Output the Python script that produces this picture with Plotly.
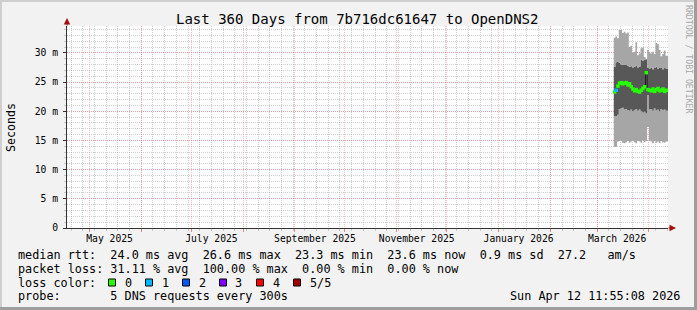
import plotly.graph_objects as go
import pandas as pd

FONT = "DejaVu Sans Mono"

# ---------------- data ----------------
range_start = "2025-04-17 11:55:08"
range_end = "2026-04-12 11:55:08"
first_day = "2026-03-11"

# smoke boundaries in ms (one value per day)
rtt_min = [13.9, 13.9, 14.8, 14.9, 15.0, 14.6, 14.5, 14.7, 14.9, 14.6, 14.8, 15.0, 14.7, 14.5, 14.9, 14.8,
           14.6, 15.0, 14.7, 14.9, 17.3, 15.0, 14.8, 14.5, 14.9, 14.6, 14.8, 14.5, 14.9, 14.7, 14.6, 14.8]
rtt_low = [19.2, 19.2, 19.4, 20.4, 20.5, 20.6, 20.3, 20.4, 20.2, 20.1, 20.3, 20.0, 20.2, 20.4, 20.1, 20.3,
           20.0, 19.8, 19.9, 19.6, 22.8, 20.3, 20.4, 20.1, 20.5, 20.2, 20.3, 20.0, 20.4, 20.2, 20.3, 20.1]
rtt_median = [23.3, 23.6, 24.3, 24.8, 24.9, 24.7, 24.8, 24.9, 24.5, 24.7, 24.2, 23.8, 23.5, 23.7, 23.4, 23.3,
              23.6, 23.9, 24.2, 26.6, 23.7, 23.6, 23.5, 23.8, 23.4, 23.7, 23.9, 23.5, 23.6, 23.8, 23.4, 23.6]
rtt_high = [27.6, 28.4, 28.5, 28.3, 28.0, 27.9, 28.0, 27.9, 27.8, 27.6, 27.7, 27.5, 27.6, 27.8, 27.5, 27.6,
            28.8, 28.6, 28.8, 28.9, 27.4, 27.3, 27.5, 27.2, 27.4, 27.6, 27.3, 27.4, 27.5, 27.2, 27.4, 27.3]
rtt_max = [32.6, 32.8, 32.5, 33.9, 33.9, 33.4, 33.6, 33.3, 33.5, 31.0, 31.2, 30.0, 30.2, 31.8, 29.6, 29.9,
           30.8, 30.9, 29.3, 29.0, 30.5, 30.1, 29.9, 30.2, 29.8, 31.7, 31.5, 30.5, 29.4, 29.8, 30.4, 29.5]
loss_class = [0, 1, 0, 0, 0, 0, 0, 0, 0, 0, 0, 0, 0, 0, 0, 0,
              0, 0, 0, 0, 0, 0, 0, 0, 0, 0, 0, 0, 0, 0, 0, 0]

loss_labels = ["0", "1", "2", "3", "4", "5/5"]
loss_colors = ["#26ff00", "#00b8ff", "#0059ff", "#7e00ff", "#ff0000", "#a10000"]

y_tick_vals = [0, 5, 10, 15, 20, 25, 30]
y_tick_text = ["0", "5 m", "10 m", "15 m", "20 m", "25 m", "30 m"]

title_text = "Last 360 Days from 7b716dc61647 to OpenDNS2"
y_title = "Seconds"
legend_rows = [
    "median rtt:  24.0 ms avg  26.6 ms max  23.3 ms min  23.6 ms now  0.9 ms sd  27.2   am/s",
    "packet loss: 31.11 % avg  100.00 % max  0.00 % min  0.00 % now",
    "loss color:",
    "probe:       5 DNS requests every 300s",
]
stamp_text = "Sun Apr 12 11:55:08 2026"
credit_text = "RRDTOOL / TOBI OETIKER"

# ---------------- geometry helpers (layout only) ----------------
W_IMG, H_IMG = 697, 310
PL, PR, PT, PB = 67, 668, 26, 228
PW, PH = PR - PL, PB - PT


def px(x):
    return (x - PL) / PW


def py(y):
    return (PB - y) / PH


def nb(s):
    return s.replace(" ", "\u00a0")


# ---------------- traces ----------------
days = pd.date_range(first_day, periods=len(rtt_median), freq="D")
edges = list(days) + [pd.Timestamp(range_end)]


def ext(v):
    return list(v) + [v[-1]]


LIGHT = "#a6a6a6"
DARK = "#585858"

fig = go.Figure()
common = dict(x=edges, mode="lines", line=dict(width=0, shape="hv", color="rgba(0,0,0,0)"),
              hoverinfo="skip", showlegend=False)
fig.add_trace(go.Scatter(y=ext(rtt_min), **common))
fig.add_trace(go.Scatter(y=ext(rtt_low), fill="tonexty", fillcolor=LIGHT, **common))
fig.add_trace(go.Scatter(y=ext(rtt_high), fill="tonexty", fillcolor=DARK, **common))
fig.add_trace(go.Scatter(y=ext(rtt_max), fill="tonexty", fillcolor=LIGHT, **common))

# median line
fig.add_trace(go.Scatter(x=edges, y=ext(rtt_median), mode="lines",
                         line=dict(width=1, shape="hv", color="#202020"),
                         hoverinfo="skip", showlegend=False))
mid = [d + pd.Timedelta(hours=12) for d in days]
fig.add_trace(go.Scatter(x=mid, y=rtt_median, mode="markers",
                         marker=dict(symbol="square", size=3.5,
                                     color=[loss_colors[c] for c in loss_class], line=dict(width=0)),
                         hoverinfo="skip", showlegend=False))
# helper trace for label axis
fig.add_trace(go.Scatter(x=mid, y=rtt_median, xaxis="x2", mode="lines",
                         line=dict(width=0, color="rgba(0,0,0,0)"), hoverinfo="skip", showlegend=False))

month_starts = pd.date_range("2025-05-01", "2026-04-01", freq="MS")
label_months = pd.date_range("2025-05-01", periods=6, freq="2MS")
label_pos = [m + pd.Timedelta(days=12) for m in label_months]
label_text = [m.strftime("%B %Y") for m in label_months]

GRID = "rgba(160,160,160,0.5)"
MGRID = "rgba(240,110,110,0.45)"
AXIS = "#333333"

fig.update_layout(
    width=W_IMG, height=H_IMG,
    margin=dict(l=PL, r=W_IMG - PR, t=PT, b=H_IMG - PB),
    paper_bgcolor="#f2f2f2", plot_bgcolor="#ffffff",
    font=dict(family=FONT, size=10, color="#000000"),
    showlegend=False,
    xaxis=dict(
        type="date", range=[range_start, range_end],
        tickmode="array", tickvals=list(month_starts), showticklabels=False,
        showgrid=True, gridcolor=MGRID, griddash="1px,1px", gridwidth=1,
        ticks="outside", ticklen=3, tickcolor="rgba(230,90,90,0.7)",
        minor=dict(dtick=7 * 86400000, tick0="2025-04-20", showgrid=True,
                   gridcolor=GRID, griddash="1px,1px", ticks="outside", ticklen=2, tickcolor=GRID),
        showline=True, linecolor=AXIS, linewidth=1, zeroline=False, fixedrange=True,
    ),
    xaxis2=dict(
        type="date", overlaying="x", side="bottom", range=[range_start, range_end],
        tickmode="array", tickvals=label_pos, ticktext=label_text,
        showgrid=False, showline=False, zeroline=False, ticks="",
        ticklabelstandoff=3,
        tickfont=dict(family=FONT, size=9.7, color="#000000"),
    ),
    yaxis=dict(
        range=[0, 34.6], tickmode="array", tickvals=y_tick_vals, ticktext=y_tick_text,
        showgrid=True, gridcolor=MGRID, griddash="1px,1px",
        ticks="outside", ticklen=3, tickcolor=AXIS, ticklabelstandoff=3,
        tickfont=dict(family=FONT, size=9.7, color="#000000"),
        minor=dict(dtick=1, tick0=0, showgrid=True, gridcolor=GRID, griddash="1px,1px",
                   ticks="outside", ticklen=2, tickcolor=GRID),
        showline=True, linecolor=AXIS, linewidth=1, zeroline=False, fixedrange=True,
    ),
)

ann = []
ann.append(dict(text=nb(title_text), x=px(357), y=py(19), xref="paper", yref="paper",
                xanchor="center", yanchor="middle", showarrow=False,
                font=dict(family=FONT, size=14, color="#000000")))
ann.append(dict(text=y_title, x=px(11), y=py(128), xref="paper", yref="paper", textangle=-90,
                xanchor="center", yanchor="middle", showarrow=False,
                font=dict(family=FONT, size=11.6, color="#000000")))
row_y = [255, 268.5, 282.5, 296]
for txt, yy in zip(legend_rows, row_y):
    ann.append(dict(text=nb(txt), x=px(16), y=py(yy), xref="paper", yref="paper",
                    xanchor="left", yanchor="middle", showarrow=False,
                    font=dict(family=FONT, size=11.8, color="#000000")))
ann.append(dict(text=nb(stamp_text), x=px(682), y=py(296), xref="paper", yref="paper",
                xanchor="right", yanchor="middle", showarrow=False,
                font=dict(family=FONT, size=11.8, color="#000000")))
ann.append(dict(text=nb(credit_text), x=px(689), y=py(59), xref="paper", yref="paper", textangle=90,
                xanchor="center", yanchor="middle", showarrow=False,
                font=dict(family=FONT, size=8.2, color="#a8a8a8")))

shapes = []
for i, (lab, col) in enumerate(zip(loss_labels, loss_colors)):
    bx = 108.5 + i * 37
    shapes.append(dict(type="rect", xref="paper", yref="paper",
                       x0=px(bx), x1=px(bx + 7), y0=py(286), y1=py(279),
                       fillcolor=col, line=dict(color="#000000", width=1)))
    ann.append(dict(text=lab, x=px(bx + 14), y=py(282.5), xref="paper", yref="paper",
                    xanchor="left", yanchor="middle", showarrow=False,
                    font=dict(family=FONT, size=11.8, color="#000000")))

# axis arrows
ARROW = "#a01010"
ann.append(dict(text="", x=px(676), y=0, xref="paper", yref="paper", ax=-9, ay=0,
                showarrow=True, arrowhead=2, arrowsize=1.3, arrowwidth=1, arrowcolor=ARROW, standoff=0))
ann.append(dict(text="", x=0, y=py(18), xref="paper", yref="paper", ax=0, ay=9,
                showarrow=True, arrowhead=2, arrowsize=1.3, arrowwidth=1, arrowcolor=ARROW, standoff=0))

# frame (3D border)
shapes.append(dict(type="line", xref="paper", yref="paper", x0=px(0), x1=px(W_IMG), y0=py(1), y1=py(1),
                   line=dict(color="#cfcfcf", width=2)))
shapes.append(dict(type="line", xref="paper", yref="paper", x0=px(1), x1=px(1), y0=py(0), y1=py(H_IMG),
                   line=dict(color="#cfcfcf", width=2)))
shapes.append(dict(type="line", xref="paper", yref="paper", x0=px(0), x1=px(W_IMG), y0=py(H_IMG - 1.5),
                   y1=py(H_IMG - 1.5), line=dict(color="#9e9e9e", width=3)))
shapes.append(dict(type="line", xref="paper", yref="paper", x0=px(W_IMG - 1.5), x1=px(W_IMG - 1.5),
                   y0=py(0), y1=py(H_IMG), line=dict(color="#9e9e9e", width=3)))

fig.update_layout(annotations=ann, shapes=shapes)
fig.write_html("out.html")
